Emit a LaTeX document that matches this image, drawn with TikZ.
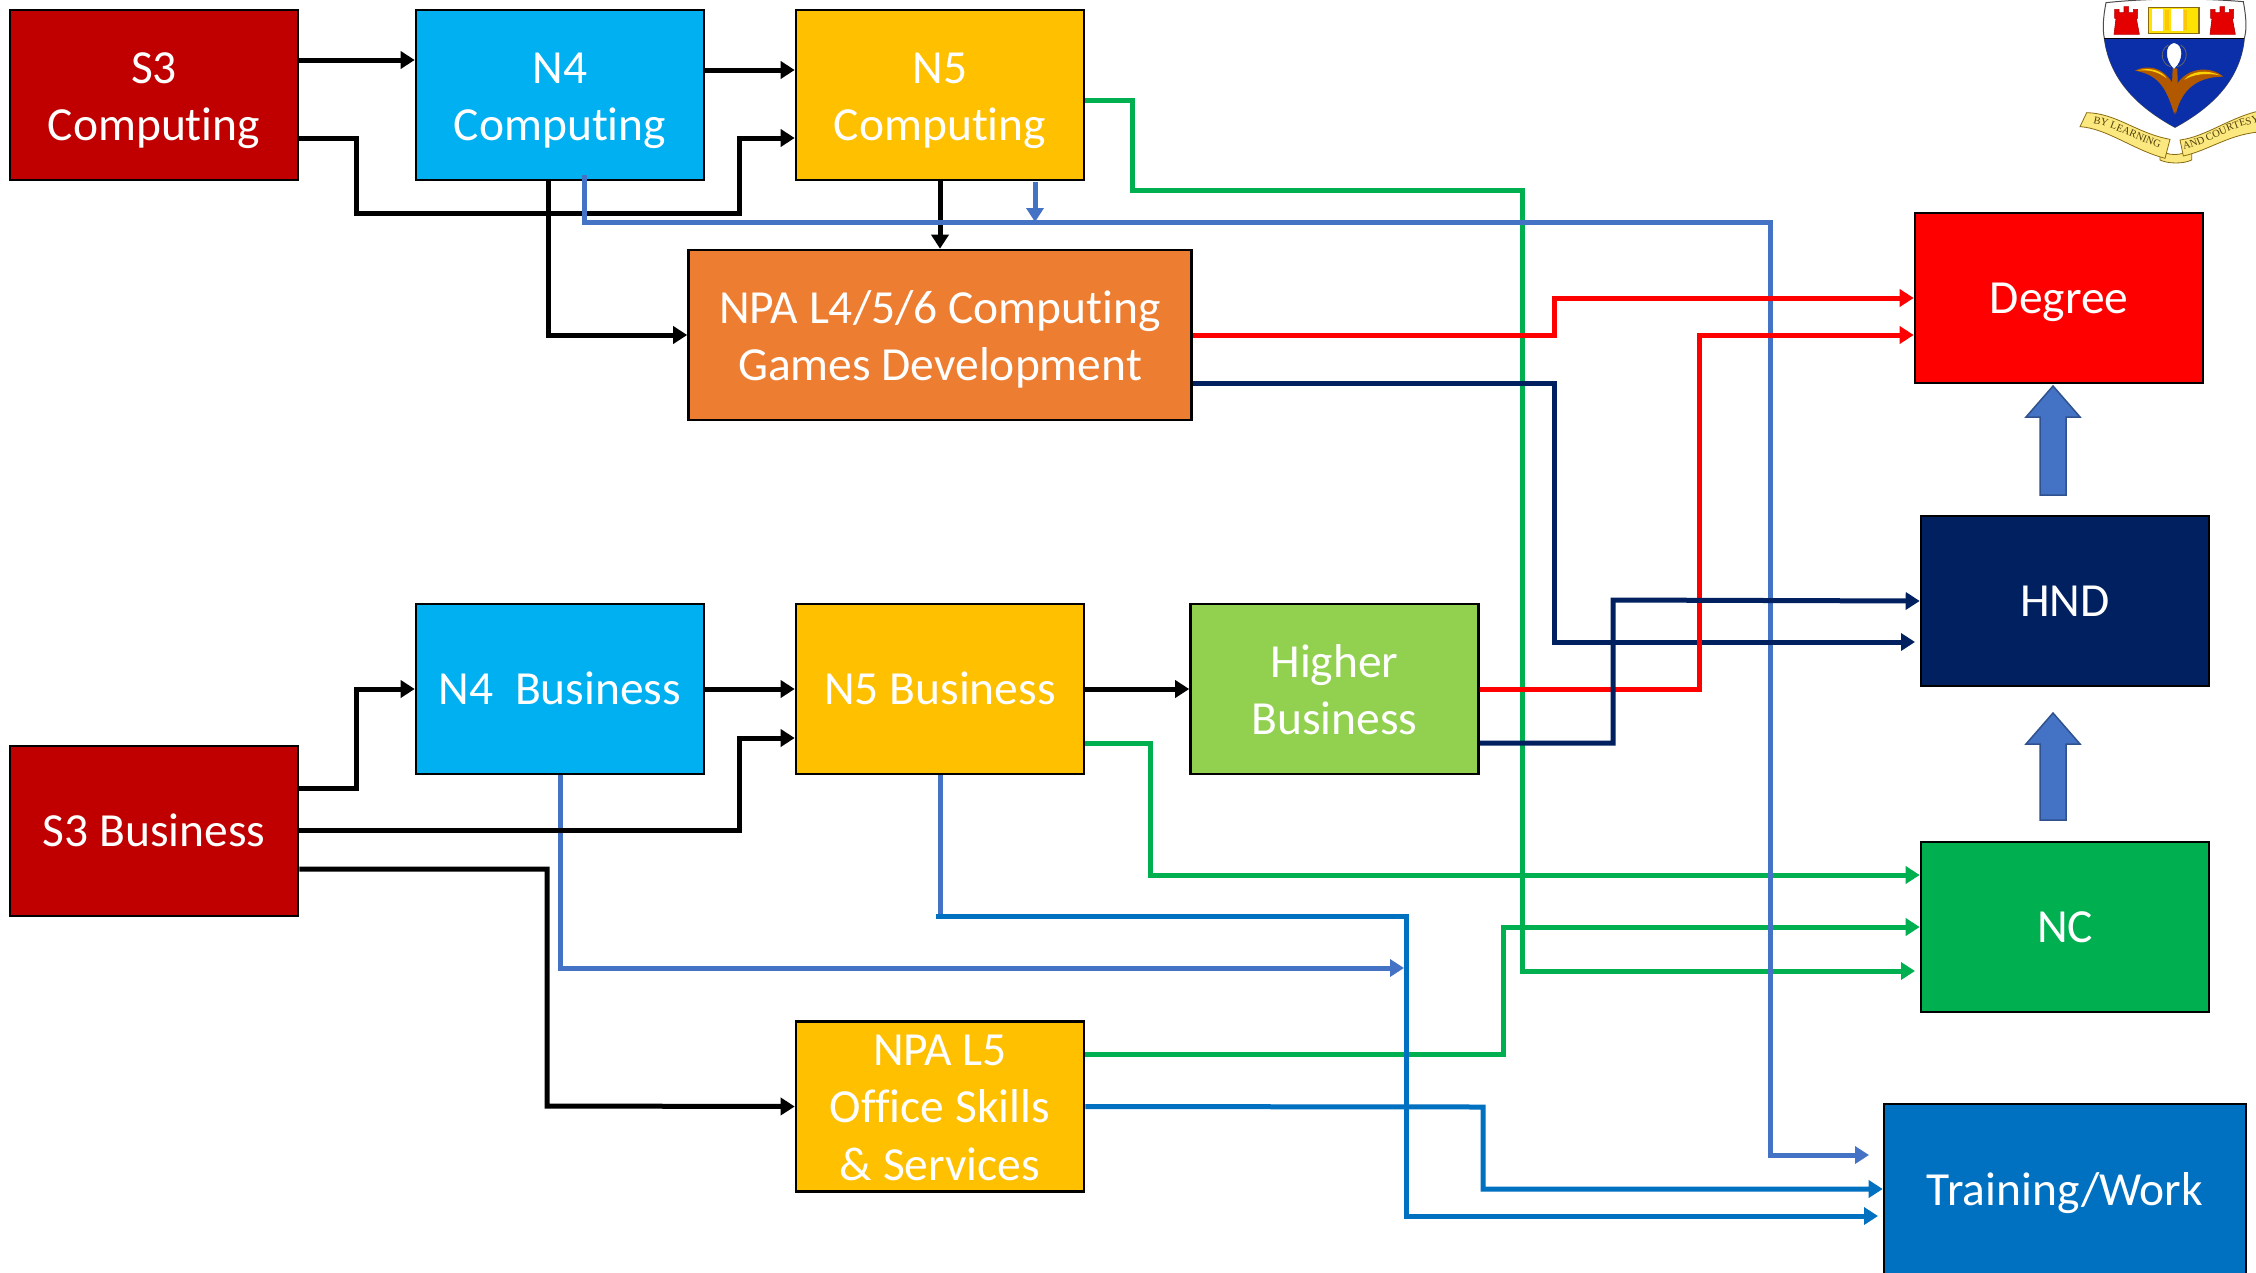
\documentclass[tikz,border=0pt]{standalone}
\usepackage{fontspec}
\setmainfont{Carlito}[Ligatures=NoCommon]
\newfontfamily\crestfont{Liberation Serif}
\usetikzlibrary{arrows.meta,decorations.text}
\definecolor{cRed}{HTML}{C00000}
\definecolor{cSky}{HTML}{00B0F0}
\definecolor{cAmber}{HTML}{FFC000}
\definecolor{cOrange}{HTML}{ED7D31}
\definecolor{cLime}{HTML}{92D050}
\definecolor{cNavy}{HTML}{002060}
\definecolor{cGreen}{HTML}{00B050}
\definecolor{cBlue}{HTML}{0070C0}
\definecolor{cSteel}{HTML}{4472C4}
\definecolor{cSteelD}{HTML}{2F528F}
\definecolor{cRibbon}{HTML}{FBE97F}
\definecolor{cGold}{HTML}{8A6A10}
\definecolor{cShield}{HTML}{0A2FA8}
\newcommand{\oneline}[1]{\rule[-10pt]{0pt}{50pt}#1}
\newcommand{\twolines}[2]{\raisebox{-5pt}[0pt][0pt]{\begin{tabular}{@{}c@{}}\rule{0pt}{54pt}#1\\\rule[-6pt]{0pt}{6pt}#2\end{tabular}}}
\newcommand{\threelines}[3]{\raisebox{-4pt}[0pt][0pt]{\begin{tabular}{@{}c@{}}\rule{0pt}{54pt}#1\\#2\\\rule[-6pt]{0pt}{6pt}#3\end{tabular}}}
\tikzset{
  x=1pt,y=-1pt,
  stagebox/.style={draw=black,line width=2.6pt,text=white,
    font=\fontsize{47.5}{57.5}\selectfont,inner sep=0pt,
    minimum width=288pt,minimum height=170pt},
  flow/.style={line width=5pt,-{Triangle[length=14pt,width=17pt]}},
  blockup/.style={fill=cSteel,draw=cSteelD,line width=1.5pt},
}
\renewcommand{\arraystretch}{1}
\setlength{\tabcolsep}{0pt}
\begin{document}
\begin{tikzpicture}
\clip (0,0) rectangle (2256,1272);
\fill[white] (0,0) rectangle (2256,1272);
% boxes
\node[stagebox,fill=cRed] (s3c) at (154,95) {\twolines{S3}{Computing}};
\node[stagebox,fill=cSky] (n4c) at (560,95) {\twolines{N4}{Computing}};
\node[stagebox,fill=cAmber] (n5c) at (940,95) {\twolines{N5}{Computing}};
\node[stagebox,fill=cOrange,minimum width=503pt] (npag) at (940,335) {\twolines{NPA L4/5/6 Computing}{Games Development}};
\node[stagebox,fill=red] (deg) at (2059,298) {\oneline{Degree}};
\node[stagebox,fill=cNavy] (hnd) at (2065,601) {\oneline{HND}};
\node[stagebox,fill=cGreen] (nc) at (2065,927) {\oneline{NC}};
\node[stagebox,fill=cBlue,minimum width=362pt,minimum height=172pt] (tw) at (2065,1190) {\oneline{Training/Work}};
\node[stagebox,fill=cSky] (n4b) at (560,689) {\oneline{N4\ \ Business}};
\node[stagebox,fill=cAmber] (n5b) at (940,689) {\oneline{N5 Business}};
\node[stagebox,fill=cLime] (hb) at (1334.5,689) {\twolines{Higher}{Business}};
\node[stagebox,fill=cRed] (s3b) at (154,831) {\oneline{S3 Business}};
\node[stagebox,fill=cAmber] (npal) at (940,1106.5) {\threelines{NPA L5}{Office Skills}{\&\ Services}};
% green
\draw[flow,cGreen] (n5c.east|-0,100) -- (1132,100) -- (1132,190) -- (1522,190) -- (1522,971) -- (1915,971);
\draw[flow,cGreen] (n5b.east|-0,743) -- (1150,743) -- (1150,875) -- (nc.west|-0,875);
\draw[flow,cGreen] (npal.east|-0,1054) -- (1503,1054) -- (1503,927) -- (nc.west);
% blues
\draw[line width=5pt,cSteel] (n5b.south) -- (940,916);
\draw[flow,cBlue] (936,916) -- (1406,916) -- (1406,1216) -- (1878,1216);
\draw[flow,cBlue] (npal.east) -- (1483,1107) -- (1483,1189) -- (tw.west|-0,1189);
\draw[flow,cSteel] (n4b.south) -- (560,968) -- (1404,968);
% black
\draw[flow] (s3c.east|-0,60) -- (n4c.west|-0,60);
\draw[flow] (n4c.east|-0,70) -- (n5c.west|-0,70);
\draw[flow] (s3c.east|-0,138) -- (356,138) -- (356,213) -- (739,213) -- (739,138) -- (n5c.west|-0,138);
\draw[flow] (548,180) -- (548,335) -- (npag.west);
\draw[flow] (n5c.south) -- (npag.north);
\draw[flow] (s3b.east|-0,788) -- (356,788) -- (356,689) -- (n4b.west);
\draw[flow] (n4b.east) -- (n5b.west);
\draw[flow] (n5b.east) -- (hb.west);
\draw[flow] (s3b.east|-0,830) -- (739,830) -- (739,738) -- (n5b.west|-0,738);
\draw[flow] (s3b.east|-0,869) -- (547,869) -- (547,1106) -- (npal.west);
% steel
\draw[flow,cSteel] (584,175) -- (584,222) -- (1770,222) -- (1770,1155) -- (1869,1155);
\draw[flow,cSteel] (1035,182) -- (1035,222);
% red and navy
\draw[flow,red] (npag.east) -- (1554,335) -- (1554,298) -- (deg.west);
\draw[flow,cNavy] (npag.east|-0,383) -- (1554,383) -- (1554,642) -- (1915,642);
\draw[flow,red] (hb.east) -- (1699,689) -- (1699,335) -- (deg.west|-0,335);
\draw[flow,cNavy] (hb.east|-0,743) -- (1613,743) -- (1613,600) -- (hnd.west);
% block arrows
\draw[blockup] (2053,386) -- (2080,417) -- (2066,417) -- (2066,495) -- (2040,495) -- (2040,417) -- (2026,417) -- cycle;
\draw[blockup] (2053,713) -- (2080,744) -- (2066,744) -- (2066,820) -- (2040,820) -- (2040,744) -- (2026,744) -- cycle;
% crest
\begin{scope}[shift={(2050,0)},x=0.3333pt,y=-0.3333pt]
  \draw[black!70,fill=white,line width=1pt] (168,8) .. controls (300,-6) and (450,-6) .. (580,5) .. controls (590,60) and (590,90) .. (583,115) .. controls (570,250) and (470,330) .. (375,382) .. controls (280,330) and (180,250) .. (163,115) .. controls (158,90) and (158,60) .. (168,8) -- cycle;
  \fill[cShield] (163,115) -- (583,115) .. controls (570,250) and (470,330) .. (375,382) .. controls (280,330) and (180,250) .. (163,115) -- cycle;
  \draw[black,line width=0.8pt] (163,115) -- (583,115);
  % towers
  \foreach \dx in {0,288}{
    \draw[red!70!black,fill=red!90!black,line width=0.6pt,shift={(\dx,0)}] (192,103) -- (198,55) -- (194,55) -- (194,28) -- (207,28) -- (207,38) -- (222,38) -- (222,20) -- (236,20) -- (236,38) -- (250,38) -- (250,28) -- (263,28) -- (263,55) -- (259,55) -- (268,103) -- cycle;
  }
  % book
  \fill[cGold] (293,20) -- (450,20) -- (450,103) -- (293,103) -- cycle;
  \fill[yellow!85!orange] (298,25) rectangle (445,98);
  \fill[white] (305,28) rectangle (340,92);
  \fill[white] (362,28) rectangle (398,92);
  \fill[yellow!60!orange] (345,30) rectangle (358,90);
  \fill[yellow!60!orange] (402,30) rectangle (412,90);
  % plant
  \fill[orange!70!black] (368,205) -- (382,205) -- (384,300) -- (375,345) -- (364,300) -- cycle;
  \fill[orange!70!black] (372,340) .. controls (350,270) and (330,225) .. (255,212) .. controls (300,190) and (350,205) .. (378,270) -- cycle;
  \fill[orange!70!black] (378,340) .. controls (395,270) and (440,230) .. (520,230) .. controls (480,195) and (400,200) .. (372,270) -- cycle;
  \fill[yellow!70!orange] (262,212) .. controls (300,200) and (335,212) .. (350,235) .. controls (325,215) and (295,208) .. (262,212) -- cycle;
  \fill[yellow!70!orange] (510,226) .. controls (470,208) and (425,212) .. (402,240) .. controls (430,222) and (470,218) .. (510,226) -- cycle;
  \draw[white,fill=white,line width=0.5pt] (372,205) .. controls (345,180) and (345,135) .. (372,130) .. controls (400,135) and (400,180) .. (372,205) -- cycle;
  \draw[black!60,line width=0.8pt] (355,135) .. controls (325,150) and (335,195) .. (362,200);
  \draw[black!60,line width=0.8pt] (392,135) .. controls (420,150) and (410,195) .. (382,200);
  % ribbon
  \draw[cGold,fill=cRibbon,line width=0.8pt] (330,445) .. controls (345,470) and (400,470) .. (425,445) -- (425,480) .. controls (400,492) and (355,492) .. (330,480) -- cycle;
  \draw[cGold,fill=cRibbon,line width=0.8pt] (110,338) .. controls (200,340) and (260,400) .. (360,418) -- (345,475) .. controls (250,450) and (170,385) .. (90,380) -- cycle;
  \draw[cGold,fill=cRibbon,line width=0.8pt] (390,420) .. controls (470,410) and (540,350) .. (640,330) -- (640,395) .. controls (540,400) and (480,450) .. (400,468) -- cycle;
  \path[postaction={decorate},decoration={text along path,text align=center,text={|\crestfont\fontsize{10.5}{10.5}\selectfont\color{cGold!60!black}|BY LEARNING}}]
     (112,368) .. controls (190,375) and (260,425) .. (345,448);
  \path[postaction={decorate},decoration={text along path,text align=center,text={|\crestfont\fontsize{10.5}{10.5}\selectfont\color{cGold!60!black}|AND COURTESY}}]
     (405,448) .. controls (480,430) and (540,380) .. (625,368);
\end{scope}
\end{tikzpicture}
\end{document}
